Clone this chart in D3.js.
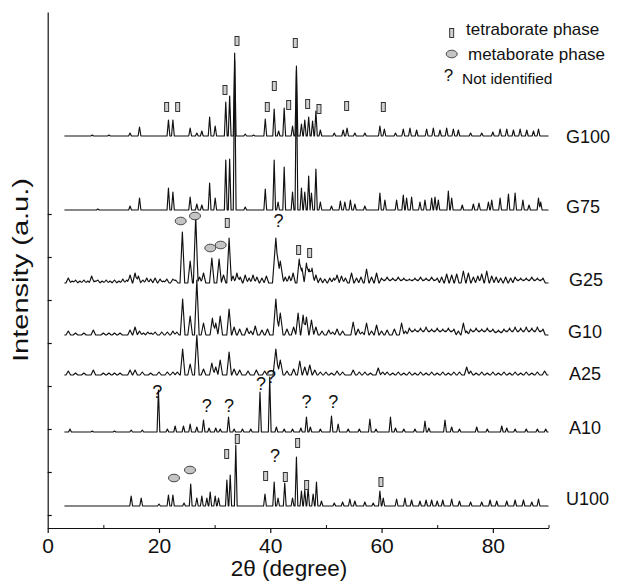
<!DOCTYPE html>
<html><head><meta charset="utf-8">
<script src="https://cdn.jsdelivr.net/npm/d3@7"></script>
<style>
body{margin:0;background:#fff}
text{font-family:"Liberation Sans",Arial,Helvetica,sans-serif;fill:#111}
</style>
</head><body>
<svg id="c" width="621" height="581"></svg>
<script>
// ---------------- DATA ----------------
const seriesNames   = ["G100","G75","G25","G10","A25","A10","U100"];
const seriesOffsets = [379, 305, 232, 180, 140, 83, 9];   // vertical stacking offset (a.u.)
const xTicks = [0, 20, 40, 60, 80];
const xMinorTicks = [10, 30, 50, 70, 90];
const yTicks = [0, 43, 86, 129, 172, 215, 258, 301];

// peaks: [2theta, intensity] or [2theta, intensity, halfwidth]
const peaksG100 = [[8,1],[11,1],[14.8,3],[16.5,9],[21.7,16],[22.5,16],[25.6,8],[26.8,3],[27.7,5],[29.1,19],[30.1,10],[32.0,34],[32.7,40],[33.6,83],[35.5,2],[37,1],
 [39.1,17],[40.7,27],[41.5,5],[42.5,28],[44.0,10],[44.7,70],[45.6,12],[46.2,16],[46.9,19],[47.6,15],[48.2,25],[49.0,6],[51.5,3],[53.1,6],[53.8,8],[55.2,3],[57.0,3],
 [59.7,10],[60.5,7],[62.5,3],[63.9,7],[65.1,8],[66.3,6],[68.1,7],[69.3,8],[70.5,6],[71.7,8],[72.9,7],[73.8,6],[76.0,3],[78.0,3],[80.0,4],[81.3,7],[82.5,7],[83.7,6],
 [84.9,7],[86.1,6],[87.3,5],[88.2,7]];
const peaksG75 = [[9,1],[14.8,4],[16.5,12],[21.7,22],[22.5,18],[25.6,13],[26.8,6],[27.7,5],[29.1,27],[30.1,12],[32.0,50],[32.7,51],[33.6,150],[35.5,3],[39.1,21],
 [40.7,50],[41.4,8],[42.5,43],[44.0,18],[44.7,140],[45.6,22],[46.2,18],[46.9,34],[47.4,17],[48.2,41],[49.0,8],[51.0,4],[52.6,9],[53.4,8],[54.4,10],[55.2,6],[57.0,4],
 [59.7,17],[60.6,10],[62.7,10],[63.9,15],[64.5,12],[65.4,13],[66.9,8],[67.8,10],[69.0,12],[69.6,13],[70.2,10],[72.0,19],[72.6,12],[74.5,5],[76.5,6],[77.5,7],[79.2,8],
 [79.8,10],[81.3,12],[82.8,16],[84.0,17],[85.4,10],[86.5,5],[88.2,12],[88.6,8]];
const peaksG25 = [[3.7,5],[4.4,2],[5,3],[5.8,2],[6.5,3],[7.2,2],[7.9,7],[8.5,2],[9,3],[9.8,2],[10.5,3],[11.2,2],[12,3],[12.8,2],[13.5,4],[14.2,3],[14.8,8],[15.7,10],[16.3,7],[17.1,3],[17.8,5],[18.5,4],[19.3,5],[20.2,4],[20.8,2],[21.4,4],[22.5,4],[23.0,3],
 [24.2,51],[25.6,22],[26.6,67],[27.3,6],[28.0,10],[29.5,25],[30.8,24],[31.6,8],[32.6,45],[33.3,7],[34.0,10],[34.6,6],[35.5,8],[36.2,5],[36.9,8],[37.6,6],[38.5,5],[39.3,7],
 [41.0,45,0.6],[41.8,22,0.6],[42.7,6],[43.4,7],[44.1,10],[45.2,24],[45.7,15],[46.5,20],[47.0,14],[47.5,15],[48.2,8],[49,5],[49.8,4],[50.7,5],[51.4,5],[52.0,8],[52.8,7],
 [53.5,5],[54.6,10],[55.5,5],[56.3,6],[57.3,14],[58.2,6],[59.1,10],[60,5],[60.5,3],[61,6],[61.5,3],[62,5],[62.5,3],[63,6],[63.5,3],[64,5],[64.5,3],[65,4],[65.5,3],[66,5],[66.5,3],[67,6],[67.5,3],[68,5],[68.5,3],[69,6],[69.5,3],[70,5],[70.8,6],[71.7,9],[72.6,8],
 [73.5,9],[74.7,12],[75.6,10],[76.5,6],[77.3,7],[78.0,9],[78.9,12],[79.8,7],[80.6,6],[81.4,5],[82.3,6],[83.2,5],[84,6],[84.5,3],[85,5],[85.5,3],[86,5],[86.5,3],[87,6],[87.5,3],[88,5],[88.5,3],[89,5]];
const peaksG10 = [[3.7,4],[5,2],[6.5,2],[8.2,5],[10,2],[11,2],[12,2],[13,2],[14.8,5],[15.7,8],[16.5,4],[17.2,2],[18,3],[18.6,2],[19.3,3],[20.5,3],[21.5,3],[22.5,4],[23.2,3],
 [24.25,36],[25.6,19],[26.8,55],[28.0,12],[29.6,17],[30.2,12],[31.0,19],[32.6,26],[33.5,8],[34.5,6],[35.8,7],[36.5,4],[37.3,9],[38.5,5],[39.5,6],[41.0,36,0.5],[41.8,22,0.5],
 [43.0,6],[44.2,8],[45.0,22],[45.9,20],[46.5,18],[47.4,15],[48.2,8],[49.3,4],[50.5,5],[51.2,3],[52.0,6],[53,4],[54.9,13],[55.8,6],[56.5,3],[57.3,12],[58.2,4],[59.1,10],[60,4],[61.0,5],[62.3,6],[63.6,12],[64.3,4],[65,7],[65.5,4],[66,6],
 [66.5,4],[67,7],[67.5,4],[68,8],[68.5,4],[69,6],[69.5,4],[70,7],[70.5,4],[71,6],[71.5,4],[72,7],[72.5,4],[73,6],[73.8,4],[74.7,12],[75.3,4],[76,6],[76.5,4],[77,7],[77.5,4],[78,6],[78.5,4],[79,7],[79.5,4],[80,6],[80.5,3],[81,5],[81.5,3],[82,6],[82.5,4],[83,7],[83.5,4],[84,8],[84.5,4],[85,7],[85.5,4],[86,8],[86.5,4],[87,7],[87.5,4],[88,8],[88.5,4],[89,6]];
const peaksA25 = [[3.7,4],[5,2],[6.5,2],[8.2,5],[10,2],[11,2],[12,2],[13,2],[14.8,5],[15.7,5],[17,3],[18.5,2],[20,3],[21.5,3],[22.5,3],[23.3,3],
 [24.25,26],[25.6,11],[26.8,40],[28.0,6],[29.5,12],[30.2,8],[31.0,15],[32.6,23],[33.5,6],[34.5,5],[36,4],[37.5,5],[39,4],[41.0,26,0.5],[41.8,15,0.5],[43,4],[44.2,6],
 [45.3,14],[46.2,8],[47.1,10],[48,5],[49,3],[50,3],[51,2],[52,4],[53,3],[54.9,5],[56,3],[57,3],[58,2],[59.4,7],[60.2,3],[61,3],[62,2],[63,3],[64,2],[65,3],[66,2],[67,3],[68,2],[69,3],[70,2],[71,3],[72,2],[73,3],[74,3],[75.3,8],[76,4],[77,2],[78,3],[79,2],[80,3],[81,2],[82,3],[83,2],
 [84,3],[85,2],[86,3],[87,2],[88,3],[89.3,4]];
const peaksA10 = [[4,3],[8,1],[12,1],[15,2],[17,2],[19.9,42],[21.5,3],[22.9,6],[24.4,6],[25.6,8],[26.8,5],[28.0,12],[29,4],[30.2,4],[31,3],[32.5,15],[33.5,3],[35,3],
 [36.5,3],[38.15,40],[39.9,55],[41.1,5],[42.5,3],[44,3],[45.5,4],[46.5,15],[47.2,5],[49,3],[51.0,16],[52.2,8],[54,3],[56,3],[57.9,13],[59,3],[61.6,15],[62.5,4],[64,3],
 [66,3],[67.8,11],[68.5,4],[71.4,12],[72.6,5],[74,3],[77.1,5],[79,3],[81.6,6],[82.5,4],[84,3],[86,3],[88,3],[89.5,3]];
const peaksU100 = [[15.0,10],[16.8,8],[20,2],[21.7,11],[22.5,11],[24.5,3],[25.7,22],[26.8,8],[27.7,10],[28.6,8],[29.2,14],[30.1,10],[30.7,8],[32.2,26],[32.8,31],
 [33.8,61],[39.05,12],[40.7,24],[41.4,8],[42.6,23],[44.0,8],[44.7,49],[45.6,15],[46.2,16],[46.8,18],[47.7,12],[48.3,24],[49.2,5],[51.5,3],[53,4],[54.3,7],[55.2,5],
 [57,4],[58.5,3],[59.7,15],[60.3,8],[62.7,7],[64.2,8],[65.4,6],[66.9,5],[68,6],[69,6],[70,5],[71,6],[72.6,7],[74,5],[76,4],[78,4],[79.5,6],[80.7,5],[82.5,5],[84,6],
 [85.5,6],[87,4],[88.2,7]];
const seriesPeaks = [peaksG100, peaksG75, peaksG25, peaksG10, peaksA25, peaksA10, peaksU100];

// phase annotations: 2theta and level (a.u.)
const tetraTheta = [21.38,23.36,31.86,34.02,39.46,40.72,43.31,44.49,46.72,48.75,53.73,60.31, 32.27,45.1,47.08, 32.17,34.07,39.17,42.7,44.92,46.54,59.89];
const tetraLevel = [408,408,425,474,408,429,410,472,411,406,409,408, 292,265,262, 61,76,39,38,72,30,33];
const metaTheta  = [23.9,26.47,29.22,31.09, 22.7,25.57];
const metaLevel  = [294,299,267,270, 37,45];
const unknownTheta = [41.5, 19.7,28.57,32.58,38.33,40.13,46.5,51.32, 40.85];
const unknownLevel = [293, 122,108,108,130,137,112,112, 58];
const legendLabels = ["tetraborate phase","metaborate phase","Not identified"];

// ---------------- CHART ----------------
const svg = d3.select("#c");
const x = d3.scaleLinear().domain([0, 90]).range([47.7, 548.5]);
const y = d3.scaleLinear().domain([-13, 503]).range([528, 12]);
const halfWidths = [0.25,0.25,0.42,0.42,0.42,0.25,0.25];

function profile(peaks, offset, w0) {
  const bp = new Set([3, 90]);
  peaks.forEach(p => { const w = p[2] || w0; [p[0]-w, p[0], p[0]+w].forEach(t => { if (t >= 3 && t <= 90) bp.add(+t.toFixed(4)); }); });
  const ts = Array.from(bp).sort((a,b)=>a-b);
  return ts.map(t => {
    let v = 0;
    peaks.forEach(p => { const w = p[2] || w0; const d = Math.abs(t - p[0]); if (d < w) v += p[1]*(1 - d/w); });
    return [t, offset + v];
  });
}
const line = d3.line().x(d => x(d[0])).y(d => y(d[1]));

seriesPeaks.forEach((pk, i) => {
  svg.append("path").attr("d", line(profile(pk, seriesOffsets[i], halfWidths[i])))
    .attr("fill","none").attr("stroke","#111").attr("stroke-width",1.15).attr("stroke-linejoin","round");
});

// series labels
const labelX = [566,566,569,568,569,569,566];
const labelDy = [2,-2,-2,-2,0,-3,-6];
seriesNames.forEach((n,i) => {
  svg.append("text").attr("x", labelX[i]).attr("y", y(seriesOffsets[i]) + labelDy[i])
    .attr("dominant-baseline","middle").attr("font-size",18).text(n);
});

// markers
function tetra(g, cx, cy) {
  g.append("rect").attr("x", cx-2).attr("y", cy-4.5).attr("width",4).attr("height",9)
    .attr("fill","#cfcfcf").attr("stroke","#222").attr("stroke-width",0.9);
}
function meta(g, cx, cy) {
  g.append("ellipse").attr("cx",cx).attr("cy",cy).attr("rx",5.5).attr("ry",3.8)
    .attr("fill","#c4c4c4").attr("stroke","#333").attr("stroke-width",0.9);
}
function unk(g, cx, cy, fs) {
  g.append("text").attr("x",cx).attr("y",cy).attr("text-anchor","middle").attr("dominant-baseline","middle")
    .attr("font-size",fs).text("?");
}
const mg = svg.append("g");
tetraTheta.forEach((t,i) => tetra(mg, x(t), y(tetraLevel[i])));
metaTheta.forEach((t,i) => meta(mg, x(t), y(metaLevel[i])));
unknownTheta.forEach((t,i) => unk(mg, x(t), y(unknownLevel[i]), 18));

// legend
const lg = svg.append("g");
tetra(lg, 451.7, 33);
meta(lg, 451.7, 54);
unk(lg, 448.5, 77, 17);
lg.append("text").attr("x",466).attr("y",31).attr("dominant-baseline","middle").attr("font-size",17).text(legendLabels[0]);
lg.append("text").attr("x",468).attr("y",56).attr("dominant-baseline","middle").attr("font-size",17).text(legendLabels[1]);
lg.append("text").attr("x",462).attr("y",80).attr("dominant-baseline","middle").attr("font-size",15.5).text(legendLabels[2]);

// axes
const xAxis = d3.axisBottom(x).tickValues(xTicks).tickSize(5).tickSizeOuter(0).tickPadding(5).tickFormat(d3.format("d"));
const gx = svg.append("g").attr("transform",`translate(0,${y(-13)})`).call(xAxis);
gx.selectAll("text").attr("font-size",21).style("font-family",'"Liberation Sans",Arial,sans-serif').attr("fill","#111");
gx.selectAll("line,path").attr("stroke","#111").attr("stroke-width",1.2);
const gxm = svg.append("g").attr("transform",`translate(0,${y(-13)})`)
  .call(d3.axisBottom(x).tickValues(xMinorTicks).tickSize(-3).tickSizeOuter(0).tickFormat(""));
gxm.select(".domain").remove();
gxm.selectAll("line").attr("stroke","#111").attr("stroke-width",1);

const gy = svg.append("g").attr("transform",`translate(${x(0)},0)`)
  .call(d3.axisLeft(y).tickValues(yTicks).tickSize(-4).tickSizeOuter(0).tickFormat(""));
gy.selectAll("line,path").attr("stroke","#111").attr("stroke-width",1.2);

svg.append("text").attr("x",289).attr("y",570).attr("text-anchor","middle")
  .attr("dominant-baseline","middle").attr("font-size",22.5).text("2θ (degree)");
svg.append("text").attr("transform",`translate(22,${270}) rotate(-90)`).attr("text-anchor","middle")
  .attr("dominant-baseline","middle").attr("font-size",22).attr("textLength",184).attr("lengthAdjust","spacingAndGlyphs")
  .text("Intensity (a.u.)");
</script>
</body></html>
